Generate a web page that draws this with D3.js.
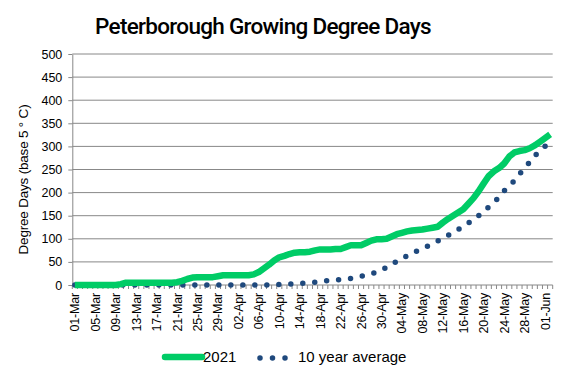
<!DOCTYPE html>
<html><head><meta charset="utf-8">
<script src="https://cdn.jsdelivr.net/npm/d3@7"></script>
<style>body{margin:0;background:#fff}svg{display:block}</style>
</head><body><svg id="c" width="567" height="378"></svg>
<script>
const title = "Peterborough Growing Degree Days";
const yTitle = "Degree Days (base 5 ° C)";
const seriesNames = ["2021", "10 year average"];
const startDate = "2021-03-01";
const dayCount = 94;
const yTicks = [0,50,100,150,200,250,300,350,400,450,500];
const gdd2021 = [0,0,0,0,0,0,0,0,0,2, 5,5,5,5,5,5,5,5,5,5, 6,9,13,16,17,17,17,17,19,21,
 21,21,21,21,21,23,28,36,44,53, 60,63,67,70,71,71,72,75,77,77, 77,78,78,82,86,86,86,91,96,99,
 99,100,105,110,113,116,118,119,120,122, 124,126,135,143,150,157,164,176,188,203,
 220,236,246,253,263,278,287,290,292,296, 302,310,318,326];
const gddAvg = [0,0,0,0,0,0,0,0,0,0, 0,0,0,0,0,0,0,0,0,0, 0,0,0,0,0,0,0,0,0,0,
 0,0,0,0,0,0,0,0,0,0.5, 1,1.5,2,3,3,4,5,6,8,9, 10,11,12,13,14,16,19,21,24,28,
 33,38,45,51,57,63,69,74,79,84, 90,95,101,107,114,120,127,134,142,150,
 160,169,179,190,204,214,226,240,253,266, 280,290,300,310];

const parse = d3.timeParse("%Y-%m-%d");
const fmt = d3.timeFormat("%d-%b");
const d0 = parse(startDate);
const days = d3.range(dayCount).map(i => d3.timeDay.offset(d0, i));

const svg = d3.select("#c");
const m = {l:72.3, r:552.7, t:54, b:285};
const x = d3.scaleBand().domain(d3.range(dayCount)).range([m.l, m.r]);
const y = d3.scaleLinear().domain([0,500]).range([m.b, m.t]);
const cx = i => x(i) + x.bandwidth()/2;
const lab = "Liberation Sans, Arial";

// gridlines
svg.append("g").selectAll("line").data(yTicks.filter(v=>v>0)).join("line")
  .attr("x1", m.l).attr("x2", m.r).attr("y1", d=>y(d)).attr("y2", d=>y(d))
  .attr("stroke", "#888").attr("stroke-width", 1);

// y axis
const ya = svg.append("g").attr("transform", `translate(${m.l},0)`)
  .call(d3.axisLeft(y).tickValues(yTicks).tickSize(4).tickSizeOuter(0).tickPadding(6));
ya.select(".domain").attr("stroke", "#888");
ya.selectAll(".tick line").attr("stroke", "#888");
ya.selectAll("text").attr("font-family",lab).attr("font-size", 12.5).attr("fill","#000");

// x axis line and ticks
const xg = svg.append("g");
xg.append("line").attr("x1", m.l).attr("x2", m.r).attr("y1", m.b).attr("y2", m.b).attr("stroke","#888");
xg.selectAll("line.t").data(d3.range(dayCount+1)).join("line").attr("class","t")
  .attr("x1", i => m.l + i*x.step()).attr("x2", i => m.l + i*x.step())
  .attr("y1", m.b).attr("y2", m.b+4).attr("stroke","#888");
xg.selectAll("text").data(d3.range(0, dayCount, 4)).join("text")
  .attr("transform", i => `translate(${cx(i)+4.5},${m.b+8}) rotate(-90)`)
  .attr("text-anchor","end")
  .attr("font-family",lab).attr("font-size", 12.5).attr("letter-spacing", -0.2)
  .text(i => fmt(days[i]));

// lines
const line = d3.line().x((d,i)=>cx(i)).y(d=>y(d));
svg.append("path").datum(gddAvg).attr("d", line).attr("fill","none")
  .attr("stroke","#1f497d").attr("stroke-width",5.5).attr("stroke-linecap","round")
  .attr("stroke-dasharray","0 12");
svg.append("path").datum(gdd2021).attr("d", line).attr("fill","none")
  .attr("stroke","#00cc66").attr("stroke-width",6.5).attr("stroke-linejoin","round");

// title
svg.append("text").attr("x", 263).attr("y", 34).attr("text-anchor","middle")
  .attr("font-family","Roboto, Liberation Sans, Arial").attr("font-weight",500)
  .attr("font-size", 22.5).attr("letter-spacing", -0.7)
  .text(title);

// y title
svg.append("text").attr("transform", `translate(28,${(m.t+m.b)/2+10}) rotate(-90)`)
  .attr("text-anchor","middle").attr("font-family",lab)
  .attr("font-size", 13.5).attr("letter-spacing", -0.2).text(yTitle);

// legend
const lg = svg.append("g");
lg.append("line").attr("x1",165).attr("x2",202).attr("y1",357).attr("y2",357)
  .attr("stroke","#00cc66").attr("stroke-width",6.5).attr("stroke-linecap","round");
lg.append("text").attr("x",203).attr("y",362).attr("font-family",lab).attr("font-size",15).text(seriesNames[0]);
lg.append("line").attr("x1",260).attr("x2",286).attr("y1",358).attr("y2",358)
  .attr("stroke","#1f497d").attr("stroke-width",5.5).attr("stroke-linecap","round").attr("stroke-dasharray","0 12.5");
lg.append("text").attr("x",298).attr("y",362).attr("font-family",lab).attr("font-size",15).text(seriesNames[1]);
</script></body></html>
